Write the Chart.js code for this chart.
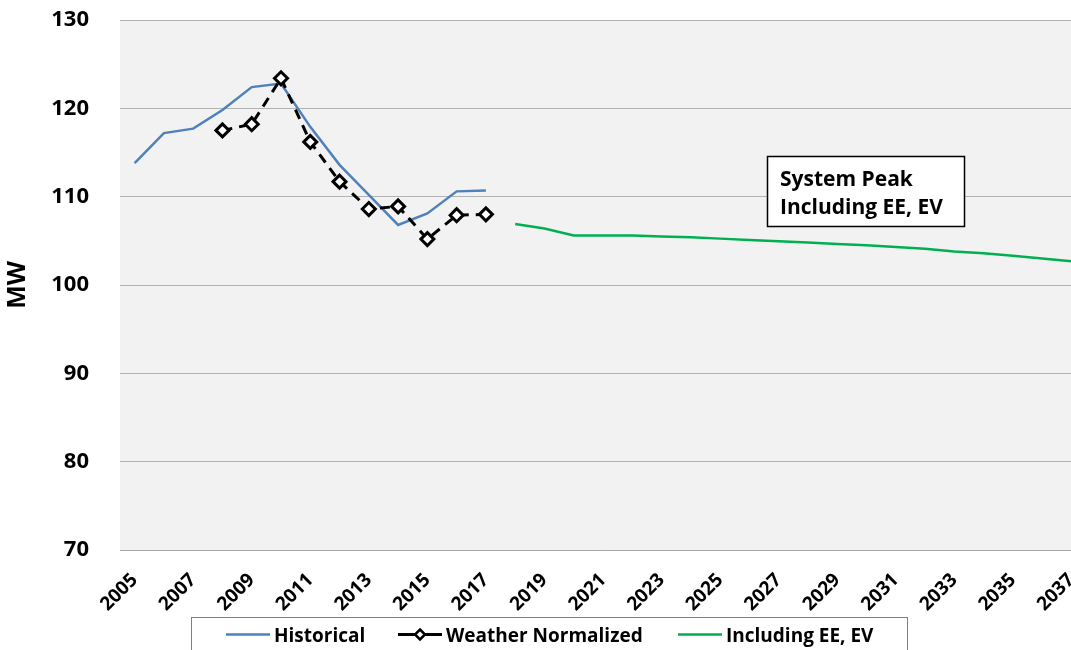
<!DOCTYPE html>
<html>
<head>
<meta charset="utf-8">
<script src="https://cdn.jsdelivr.net/npm/chart.js@4.4.1/dist/chart.umd.min.js"></script>
<style>
  html, body { margin: 0; padding: 0; background: #fff; overflow: hidden; }
  #wrap { width: 1096px; height: 650px; }
</style>
</head>
<body>
<div id="wrap"><canvas id="peak" width="1096" height="650"></canvas></div>
<script>
// Years on the category axis
const years = ['2005','2006','2007','2008','2009','2010','2011','2012','2013','2014','2015',
               '2016','2017','2018','2019','2020','2021','2022','2023','2024','2025','2026',
               '2027','2028','2029','2030','2031','2032','2033','2034','2035','2036','2037'];

// Y axis range (MW)
const yTicks = [70, 80, 90, 100, 110, 120, 130];

// Actual system peak, 2005-2017
const historical = [113.8, 117.2, 117.7, 119.8, 122.4, 122.8, 117.9, 113.6, 110.2, 106.8, 108.1, 110.6, 110.7,
                    null, null, null, null, null, null, null, null, null, null, null, null, null, null, null,
                    null, null, null, null, null];

// Weather-normalized peak, 2008-2017
const weatherNormalized = [null, null, null, 117.5, 118.2, 123.4, 116.2, 111.7, 108.6, 108.9, 105.2, 107.9, 108.0,
                           null, null, null, null, null, null, null, null, null, null, null, null, null, null, null,
                           null, null, null, null, null];

// Forecast peak including energy efficiency and electric vehicles, 2018-2037
const forecastEEEV = [null, null, null, null, null, null, null, null, null, null, null, null, null,
                      106.9, 106.4, 105.6, 105.6, 105.6, 105.5, 105.4, 105.25, 105.1, 104.95, 104.8,
                      104.65, 104.5, 104.3, 104.1, 103.8, 103.6, 103.3, 103.0, 102.7];

const seriesNames = ['Historical', 'Weather Normalized', 'Including EE, EV'];
const boxLines = ['System Peak', 'Including EE, EV'];

const FONT = '"Open Sans", "DejaVu Sans", sans-serif';

// Grey plot background, text box and boxed legend
const decorations = {
  id: 'decorations',
  beforeDraw(chart) {
    const { ctx, chartArea: a } = chart;
    ctx.save();
    ctx.fillStyle = '#ffffff';
    ctx.fillRect(0, 0, chart.width, chart.height);
    ctx.fillStyle = '#f2f2f2';
    ctx.fillRect(a.left, a.top, a.right - a.left, a.bottom - a.top);
    ctx.restore();
  },
  afterDraw(chart) {
    const { ctx } = chart;
    ctx.save();

    // Text box
    ctx.fillStyle = '#ffffff';
    ctx.fillRect(767, 156, 198, 71);
    ctx.strokeStyle = '#000000';
    ctx.lineWidth = 1.5;
    ctx.strokeRect(767.5, 156.5, 197, 70);
    ctx.fillStyle = '#000000';
    ctx.font = 'bold 21px ' + FONT;
    ctx.textAlign = 'left';
    ctx.textBaseline = 'alphabetic';
    ctx.fillText(boxLines[0], 780, 186);
    ctx.fillText(boxLines[1], 780, 214);

    // Legend box
    ctx.fillStyle = '#ffffff';
    ctx.fillRect(192, 617, 716, 60);
    ctx.strokeStyle = '#808080';
    ctx.lineWidth = 1;
    ctx.strokeRect(191.5, 617.5, 716, 60);

    const starts = [226, 398, 678];
    const ly = 634.5;
    ctx.font = 'bold 19px ' + FONT;
    chart.data.datasets.forEach((ds, i) => {
      const x0 = starts[i];
      ctx.strokeStyle = ds.borderColor;
      ctx.lineWidth = ds.borderWidth;
      ctx.setLineDash([]);
      ctx.beginPath();
      ctx.moveTo(x0, ly);
      ctx.lineTo(x0 + 44, ly);
      ctx.stroke();
      if (ds.pointRadius > 0) {
        const cx = x0 + 22, r = 5;
        ctx.beginPath();
        ctx.moveTo(cx, ly - r);
        ctx.lineTo(cx + r, ly);
        ctx.lineTo(cx, ly + r);
        ctx.lineTo(cx - r, ly);
        ctx.closePath();
        ctx.fillStyle = '#ffffff';
        ctx.fill();
        ctx.lineWidth = 2.5;
        ctx.strokeStyle = '#000000';
        ctx.stroke();
      }
      ctx.fillStyle = '#000000';
      ctx.fillText(ds.label, x0 + 48, 641.5);
    });
    ctx.restore();
  }
};

function draw() {
  new Chart(document.getElementById('peak'), {
    type: 'line',
    data: {
      labels: years,
      datasets: [
        {
          label: seriesNames[0],
          data: historical,
          borderColor: '#4f81bd',
          borderWidth: 2.5,
          pointRadius: 0,
          tension: 0,
          order: 2
        },
        {
          label: seriesNames[1],
          data: weatherNormalized,
          borderColor: '#000000',
          borderWidth: 3,
          borderDash: [10, 7],
          pointStyle: 'rectRot',
          pointRadius: 6.5,
          pointBorderWidth: 3,
          pointBackgroundColor: '#ffffff',
          pointBorderColor: '#000000',
          tension: 0,
          order: 0
        },
        {
          label: seriesNames[2],
          data: forecastEEEV,
          borderColor: '#00b050',
          borderWidth: 2.5,
          pointRadius: 0,
          tension: 0,
          order: 1
        }
      ]
    },
    options: {
      responsive: false,
      animation: false,
      events: [],
      layout: { padding: { top: 20, right: 10, left: 0, bottom: 0 } },
      plugins: {
        legend: { display: false },
        tooltip: { enabled: false }
      },
      scales: {
        x: {
          offset: true,
          grid: { display: false, drawTicks: false },
          border: { display: true, color: '#a6a6a6', width: 1 },
          ticks: {
            autoSkip: false,
            minRotation: 45,
            maxRotation: 45,
            padding: 19,
            color: '#000000',
            font: { family: FONT, weight: 'bold', size: 19 },
            callback(value, index) {
              return index % 2 === 0 ? this.getLabelForValue(value) : '';
            }
          },
          afterFit(scale) {
            scale.height = 100;
            // the label drop is vertical only; keep it out of the side padding
            scale.paddingLeft = 10;
            scale.paddingRight = 4;
          }
        },
        y: {
          min: yTicks[0],
          max: yTicks[yTicks.length - 1],
          afterBuildTicks(scale) { scale.ticks = yTicks.map(v => ({ value: v })); },
          grid: { color: '#b3b3b3', lineWidth: 1, drawTicks: false },
          border: { display: false },
          ticks: {
            padding: 31,
            color: '#000000',
            font: { family: FONT, weight: 'bold', size: 22 }
          },
          title: {
            display: true,
            text: 'MW',
            color: '#000000',
            font: { family: FONT, weight: 'bold', size: 25 },
            padding: { top: 3, bottom: 0 }
          },
          afterFit(scale) {
            scale.width = 120;
            // the label gap is horizontal only; keep it out of the vertical padding
            scale.paddingTop = 14;
            scale.paddingBottom = 14;
          }
        }
      }
    },
    plugins: [decorations]
  });
}

const fontsToLoad = ['bold 22px "Open Sans"', 'bold 19px "Open Sans"'];
Promise.all(fontsToLoad.map(f => document.fonts.load(f))).then(draw, draw);
</script>
</body>
</html>
